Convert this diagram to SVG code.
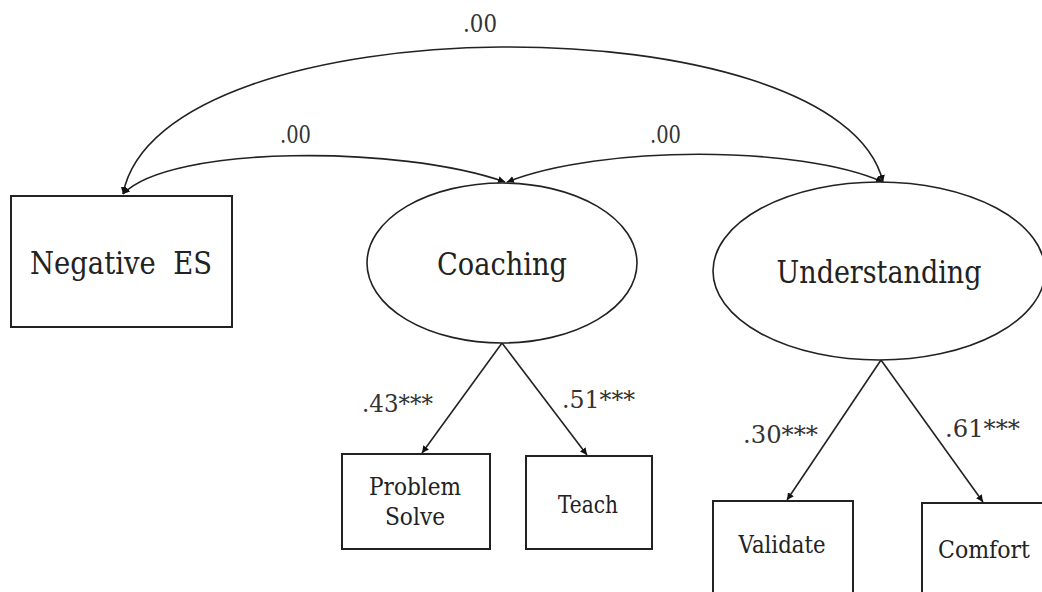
<svg xmlns="http://www.w3.org/2000/svg" width="1042" height="592" viewBox="0 0 1042 592">
<style>
  .box { fill: #fff; stroke: #222; stroke-width: 2; }
  .ell { fill: #fff; stroke: #222; stroke-width: 1.6; }
  text { font-family: "DejaVu Serif", "Liberation Serif", serif; }
  .big { font-size: 32px; fill: #222; text-anchor: middle; }
  .small { font-size: 24px; fill: #222; text-anchor: middle; }
  .lbl { font-size: 24px; fill: #333; }
  .edge { fill: none; stroke: #222; stroke-width: 1.6; }
</style>
<defs>
  <marker id="ah" viewBox="0 0 10 10" refX="10" refY="5" markerWidth="7" markerHeight="7" markerUnits="userSpaceOnUse" orient="auto-start-reverse">
    <path d="M0,0 L10,5 L0,10 z" fill="#111"/>
  </marker>
</defs>
<rect width="1042" height="592" fill="#fff"/>

<g id="connectors">
  <path class="edge" d="M123,194 C160,0 840,0 883,182" marker-start="url(#ah)" marker-end="url(#ah)"/>
  <path class="edge" d="M123,194 C170,145 400,145 505,182" marker-start="url(#ah)" marker-end="url(#ah)"/>
  <path class="edge" d="M507,182 C600,145 800,145 883,182" marker-start="url(#ah)" marker-end="url(#ah)"/>
  <line class="edge" x1="502" y1="343" x2="422" y2="453" marker-end="url(#ah)"/>
  <line class="edge" x1="502" y1="343" x2="587" y2="455" marker-end="url(#ah)"/>
  <line class="edge" x1="881" y1="360" x2="787" y2="500" marker-end="url(#ah)"/>
  <line class="edge" x1="881" y1="360" x2="983" y2="502" marker-end="url(#ah)"/>
  <text class="lbl" x="463" y="32" textLength="34" lengthAdjust="spacingAndGlyphs">.00</text>
  <text class="lbl" x="280" y="143" textLength="31" lengthAdjust="spacingAndGlyphs">.00</text>
  <text class="lbl" x="650" y="143" textLength="31" lengthAdjust="spacingAndGlyphs">.00</text>
  <text class="lbl" x="362" y="412" textLength="71" lengthAdjust="spacingAndGlyphs">.43***</text>
  <text class="lbl" x="562" y="408" textLength="73" lengthAdjust="spacingAndGlyphs">.51***</text>
  <text class="lbl" x="743" y="443" textLength="75" lengthAdjust="spacingAndGlyphs">.30***</text>
  <text class="lbl" x="945" y="437" textLength="75" lengthAdjust="spacingAndGlyphs">.61***</text>
</g>

<g id="negative-es">
  <rect class="box" x="11" y="196" width="221" height="131"/>
  <text class="big" x="121" y="274" textLength="182" lengthAdjust="spacingAndGlyphs" xml:space="preserve">Negative  ES</text>
</g>
<g id="coaching">
  <ellipse class="ell" cx="502" cy="263" rx="135" ry="80"/>
  <text class="big" x="502" y="275" textLength="130" lengthAdjust="spacingAndGlyphs">Coaching</text>
</g>
<g id="understanding">
  <ellipse class="ell" cx="879" cy="271" rx="166" ry="89"/>
  <text class="big" x="879" y="283" textLength="205" lengthAdjust="spacingAndGlyphs">Understanding</text>
</g>
<g id="problem-solve">
  <rect class="box" x="342" y="454" width="148" height="95"/>
  <text class="small" x="415" y="495" textLength="92" lengthAdjust="spacingAndGlyphs">Problem</text>
  <text class="small" x="415" y="525" textLength="60" lengthAdjust="spacingAndGlyphs">Solve</text>
</g>
<g id="teach">
  <rect class="box" x="526" y="456" width="126" height="93"/>
  <text class="small" x="588" y="513" textLength="60" lengthAdjust="spacingAndGlyphs">Teach</text>
</g>
<g id="validate">
  <rect class="box" x="713" y="501" width="140" height="100"/>
  <text class="small" x="782" y="553" textLength="87" lengthAdjust="spacingAndGlyphs">Validate</text>
</g>
<g id="comfort">
  <rect class="box" x="922" y="503" width="130" height="100"/>
  <text class="small" x="984" y="558" textLength="92" lengthAdjust="spacingAndGlyphs">Comfort</text>
</g>
</svg>
